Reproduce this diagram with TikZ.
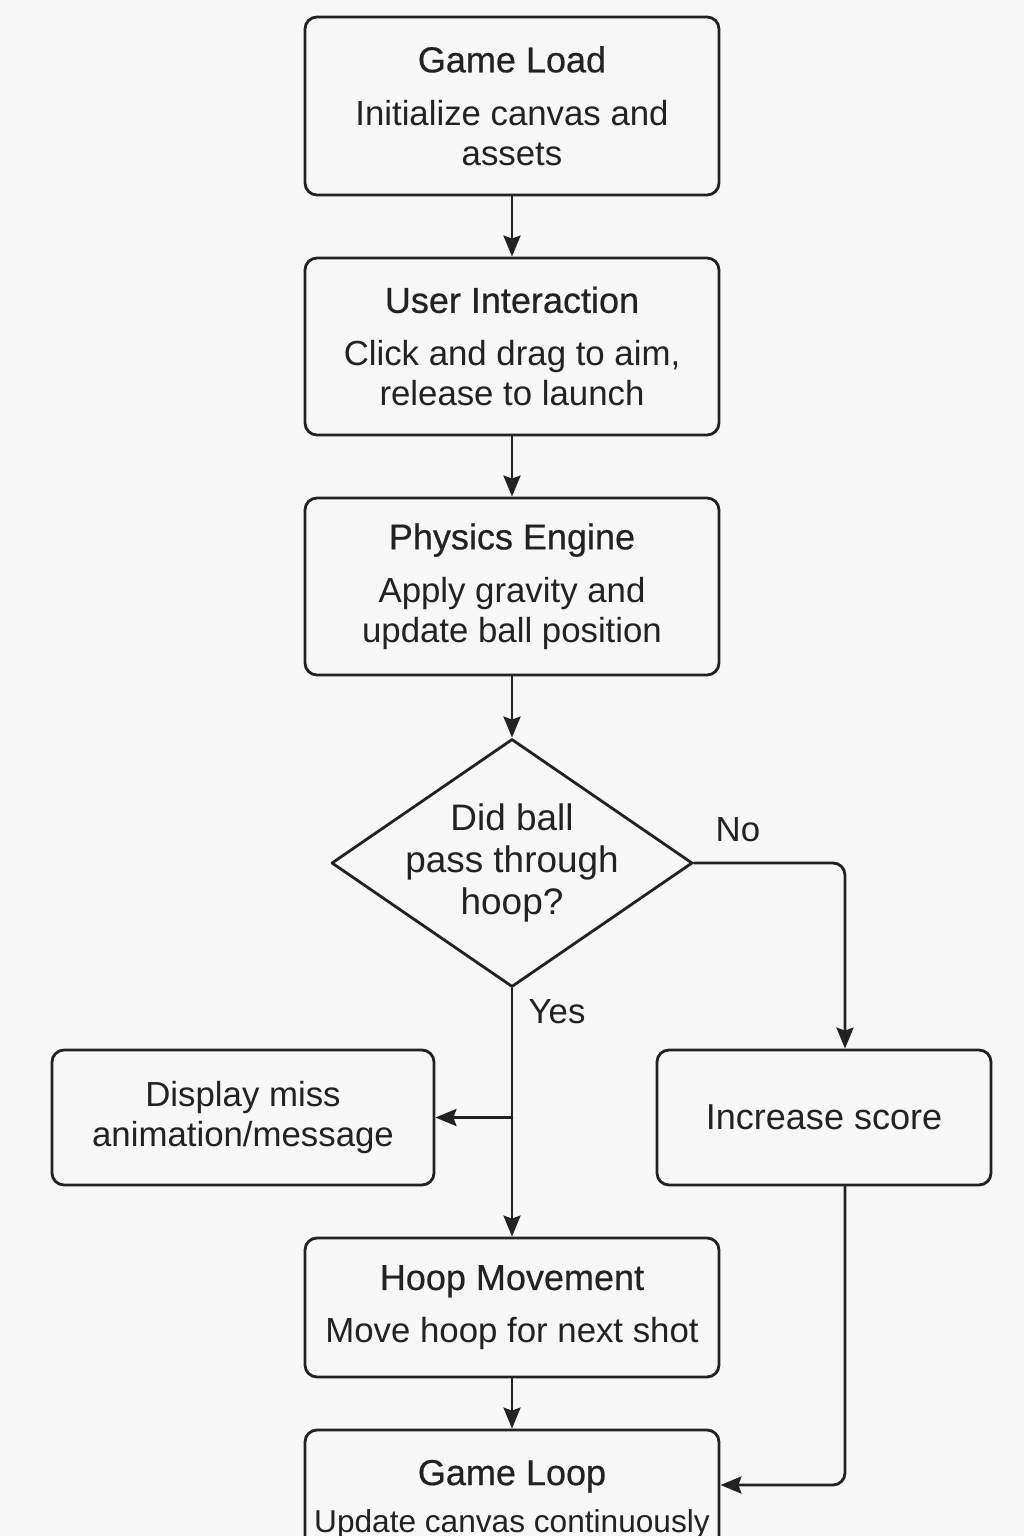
\documentclass[tikz,border=0pt]{standalone}
\usepackage{fontspec}
\setmainfont{Liberation Sans}
\newfontfamily\ttlfont{Liberation Sans}[FakeBold=0.5]
\usetikzlibrary{shapes.geometric,arrows.meta,positioning}
\definecolor{bgc}{RGB}{247,247,247}
\definecolor{ink}{RGB}{34,34,34}
\newcommand\ttl[1]{{\ttlfont\fontsize{20.5}{23}\selectfont #1}}
\begin{document}
\begin{tikzpicture}[line join=round, line cap=round, >={Stealth[length=0.42cm,width=0.34cm,inset=0.06cm]},
	font={\fontsize{19.8}{23}\selectfont}, text=ink]
	\tikzset{stage/.style={draw=ink, line width=1.6pt, rounded corners=0.24cm, fill=bgc, align=center, minimum width=8.28cm, inner sep=0pt},
	decision/.style={draw=ink, line width=1.6pt, diamond, aspect=1.456, align=center, minimum width=7.22cm, minimum height=4.96cm, inner sep=-4pt,
		font={\fontsize{21}{24}\selectfont}},
	flow/.style={->, draw=ink, line width=1.6pt, rounded corners=0.24cm}}
	\fill[bgc] (0,0) rectangle (20.48,-30.72);
	\clip (0,0) rectangle (20.48,-30.72);
	% main column
	\node[stage, minimum height=3.56cm] (load) at (10.24,-2.12) {\ttl{Game Load}\\[7pt]Initialize canvas and\\assets};
	\node[stage, minimum height=3.54cm] (user) at (10.24,-6.93) {\ttl{User Interaction}\\[7pt]Click and drag to aim,\\release to launch};
	\node[stage, minimum height=3.54cm] (phys) at (10.24,-11.73) {\ttl{Physics Engine}\\[7pt]Apply gravity and\\update ball position};
	\node[decision] (check) at (10.24,-17.26) {Did ball\\pass through\\hoop?};
	\node[stage, minimum width=7.64cm, minimum height=2.7cm] (miss) at (4.86,-22.35) {Display miss\\animation/message};
	\node[stage, minimum width=6.68cm, minimum height=2.7cm] (score) at (16.48,-22.35) {\fontsize{20.5}{23}\selectfont Increase score};
	\node[stage, minimum height=2.78cm] (hoop) at (10.24,-26.15) {\ttl{Hoop Movement}\\[7pt]Move hoop for next shot};
	\node[stage, minimum height=2.78cm] (loop) at (10.24,-29.99) {\ttl{Game Loop}\\[4pt]{\fontsize{18}{23}\selectfont Update canvas continuously}};
	% connectors
	\draw[flow] (load) -- (user);
	\draw[flow] (user) -- (phys);
	\draw[flow] (phys) -- (check);
	\draw[flow] (check.east) -| ([xshift=0.42cm]score.north);
	\draw[flow] (check) -- (hoop);
	\draw[flow] (check.south |- miss.east) -- (miss.east);
	\draw[flow] (hoop) -- (loop);
	\draw[flow] ([xshift=0.42cm]score.south) |- ([yshift=0.29cm]loop.east);
	\node (no) at ([shift={(0.88,0.66)}]check.east) {No};
	\node (yes) at ([shift={(0.9,-0.46)}]check.south) {Yes};
\end{tikzpicture}
\end{document}
